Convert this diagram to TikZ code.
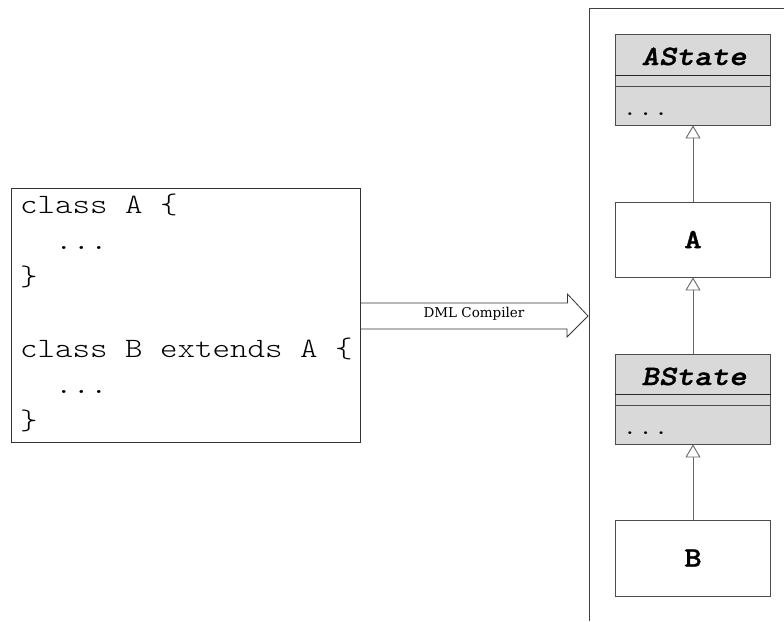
\documentclass[tikz,border=0pt]{standalone}
\usepackage{fontspec}
\setmainfont{DejaVu Serif}
\newfontfamily\codefont{lmmonolt10-regular}[Extension=.otf, FakeStretch=1.19]
\newfontfamily\codeboldfont{lmmonolt10-bold}[Extension=.otf, FakeStretch=1.19, FakeBold=1.2,
  ItalicFont=lmmonolt10-boldoblique, ItalicFeatures={FakeBold=1.2}]
\usetikzlibrary{arrows.meta}

\begin{document}
\begin{tikzpicture}[x=1pt,y=-1pt,
  codeline/.style={anchor=base west, inner sep=0pt, font=\fontsize{28}{28}\codefont},
  classbox/.style={draw=black!70, line width=0.8pt, rectangle, minimum width=155pt, inner sep=0pt},
  statebox/.style={classbox, fill=black!15, minimum height=91pt},
  plainbox/.style={classbox, fill=white, minimum height=76pt},
  statetitle/.style={font=\fontsize{28}{28}\codeboldfont\itshape, anchor=base, inner sep=0pt},
  statedots/.style={font=\fontsize{25}{25}\codefont, anchor=base west, inner sep=0pt},
  classname/.style={font=\fontsize{28}{28}\codeboldfont, inner sep=0pt},
  inherit/.style={draw=black!60, line width=0.9pt, -{Triangle[open, length=13pt, width=15pt]}},
  fatarrow/.style={draw=black!80, line width=0.8pt}
]
\useasboundingbox (0,0) rectangle (784,621);

% package frame on the right
\coordinate (framecorner) at (589,8);
\coordinate (framebottom) at (589,621);
\coordinate (frameright) at (784,8);
\draw[black!75, line width=0.8pt] (framebottom) -- (framecorner) -- (frameright);

% source code box
\node[draw=black!80, line width=0.8pt, minimum width=349pt, minimum height=254pt, inner sep=0pt] (code) at (185.5,315) {};
\node[codeline] (l1) at (20,213) {class A \{};
\node[codeline] (l2) at (20,249) {~~...};
\node[codeline] (l3) at (20,285) {\}};
\node[codeline] (l5) at (20,357) {class B extends A \{};
\node[codeline] (l6) at (20,393) {~~...};
\node[codeline] (l7) at (20,429) {\}};

% compiler arrow
\coordinate (tip) at (588,316);
\draw[fatarrow] ([yshift=12pt]code.east) -- ++(207,0) -- ++(0,-9) -- (tip) -- ++(-21,21) -- ++(0,-8) -- ([yshift=-14pt]code.east);
\node[font=\fontsize{13.5}{13.5}\selectfont, inner sep=0pt] (lbl) at (474,314) {DML Compiler};

% generated classes
\node[statebox] (astate) at (693,79.5) {};
\draw[black!85, line width=0.8pt] ([yshift=-42pt]astate.north west) -- ([yshift=-42pt]astate.north east);
\draw[black!70, line width=0.8pt] ([yshift=-53pt]astate.north west) -- ([yshift=-53pt]astate.north east);
\node[statetitle] (astatet) at (694,65) {AState};
\node[statedots] (astated) at (622,115) {...};

\node[plainbox, minimum height=75pt] (a) at (693,239.5) {};
\node[classname] (at) at (a.center) {A};

\node[statebox, minimum height=90pt] (bstate) at (693,399) {};
\draw[black!85, line width=0.8pt] ([yshift=-41pt]bstate.north west) -- ([yshift=-41pt]bstate.north east);
\draw[black!70, line width=0.8pt] ([yshift=-52pt]bstate.north west) -- ([yshift=-52pt]bstate.north east);
\node[statetitle] (bstatet) at (694,385) {BState};
\node[statedots] (bstated) at (622,434) {...};

\node[plainbox] (b) at (693,558) {};
\node[classname] (bt) at (b.center) {B};

% inheritance
\draw[inherit] (a.north) -- (astate.south);
\draw[inherit] (bstate.north) -- (a.south);
\draw[inherit] (b.north) -- (bstate.south);
\end{tikzpicture}
\end{document}
